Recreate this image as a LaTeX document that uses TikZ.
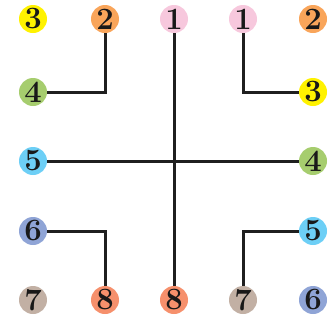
\documentclass[tikz,border=0pt]{standalone}
\begin{document}
\begin{tikzpicture}[x=1pt,y=-1pt,
  ball/.style={circle,minimum size=28pt,inner sep=0pt,fill=#1,font=\fontsize{31}{31}\selectfont\bfseries,text=black!90},
  wire/.style={line width=3pt,draw=black!88}]
\useasboundingbox (0,0) rectangle (335,322);
\definecolor{cY}{HTML}{FFF200}
\definecolor{cO}{HTML}{F9A55A}
\definecolor{cP}{HTML}{F7C8DD}
\definecolor{cG}{HTML}{A6CD6E}
\definecolor{cB}{HTML}{6DCFF6}
\definecolor{cV}{HTML}{8FA4D6}
\definecolor{cT}{HTML}{C2B0A4}
\definecolor{cS}{HTML}{F6906C}
% top row
\node[ball=cY] (t3) at (33,19) {3};
\node[ball=cO] (t2) at (105,19) {2};
\node[ball=cP] (t1a) at (174,19) {1};
\node[ball=cP] (t1b) at (243,19) {1};
\node[ball=cO] (t2b) at (313,19) {2};
% second row
\node[ball=cG] (l4) at (33,92) {4};
\node[ball=cY] (r3) at (313,92) {3};
% middle row
\node[ball=cB] (l5) at (33,161) {5};
\node[ball=cG] (r4) at (313,161) {4};
% fourth row
\node[ball=cV] (l6) at (33,231) {6};
\node[ball=cB] (r5) at (313,231) {5};
% bottom row
\node[ball=cT] (b7a) at (33,300) {7};
\node[ball=cS] (b8a) at (105,300) {8};
\node[ball=cS] (b8b) at (174,300) {8};
\node[ball=cT] (b7b) at (243,300) {7};
\node[ball=cV] (b6) at (313,300) {6};
% connectors
\coordinate (c1) at (105,92);
\coordinate (c2) at (243,92);
\coordinate (c3) at (105,231);
\coordinate (c4) at (243,231);
\draw[wire] (t2) -- (c1) -- (l4);
\draw[wire] (t1b) -- (c2) -- (r3);
\draw[wire] (t1a) -- (b8b);
\draw[wire] (l5) -- (r4);
\draw[wire] (l6) -- (c3) -- (b8a);
\draw[wire] (r5) -- (c4) -- (b7b);
\end{tikzpicture}
\end{document}
